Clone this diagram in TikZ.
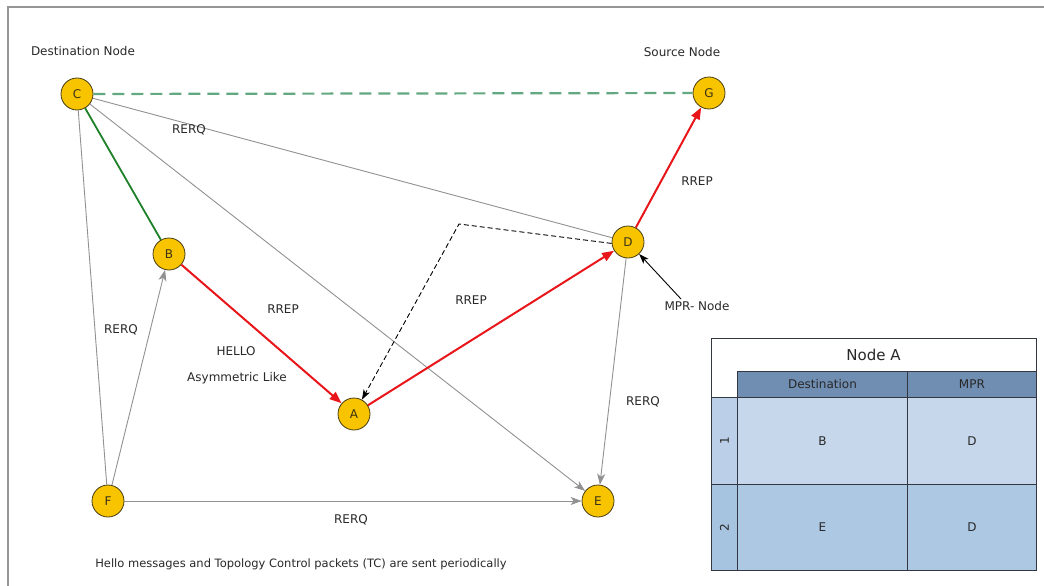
\documentclass[tikz,border=0pt]{standalone}
\usepackage{fontspec}
\setmainfont{DejaVu Sans}
\usetikzlibrary{arrows.meta}
\definecolor{nodefill}{RGB}{248,196,0}
\definecolor{nodeline}{RGB}{70,60,20}
\definecolor{nodetext}{RGB}{60,50,20}
\definecolor{txt}{RGB}{40,40,40}
\definecolor{edgegray}{RGB}{145,145,145}
\definecolor{arrred}{RGB}{232,22,26}
\definecolor{solidgreen}{RGB}{30,128,40}
\definecolor{dashgreen}{RGB}{98,168,128}
\definecolor{framec}{RGB}{150,150,150}
\definecolor{hdr}{RGB}{112,142,178}
\definecolor{rowone}{RGB}{198,215,235}
\definecolor{rowtwo}{RGB}{173,200,227}
\definecolor{sideone}{RGB}{188,207,232}
\definecolor{sidetwo}{RGB}{166,195,224}
\definecolor{tblline}{RGB}{50,55,65}
\begin{document}
\begin{tikzpicture}[x=1pt,y=-1pt,
  netnode/.style={circle, draw=nodeline, fill=nodefill, line width=0.8pt,
    minimum size=32pt, inner sep=0pt, font=\fontsize{12}{14}\selectfont, text=nodetext},
  lbl/.style={font=\fontsize{12}{14}\selectfont, text=txt, inner sep=1pt},
  grayedge/.style={draw=edgegray, line width=0.9pt},
  grayarrow/.style={grayedge, -{Stealth[length=11pt,width=8pt,inset=3pt]}},
  redarrow/.style={draw=arrred, line width=2pt, -{Triangle[length=12pt,width=9pt]}},
  blackarrow/.style={draw=black, line width=0.9pt, -{Stealth[length=10pt,width=7pt,inset=2.5pt]}},
  cell/.style={draw=tblline, line width=0.9pt, inner sep=0pt, anchor=north west,
    font=\fontsize{12}{14}\selectfont, text=txt}
]
\useasboundingbox (0,0) rectangle (1044,586);
% frame (top and left only)
\draw[framec, line width=1.6pt] (8,586) -- (8,7) -- (1044,7);

% nodes
\node[netnode] (C) at (77,94) {C};
\node[netnode] (G) at (709,93) {G};
\node[netnode] (B) at (169,254) {B};
\node[netnode] (D) at (628,242) {D};
\node[netnode] (A) at (354,414) {A};
\node[netnode] (F) at (108,501) {F};
\node[netnode] (E) at (598,501) {E};

\coordinate (bend) at (459,224);
\coordinate (mprtail) at (681,299);

% edges
\draw[dashgreen, line width=2.2pt, dash pattern=on 12pt off 7pt] (C) -- (G);
\draw[solidgreen, line width=1.8pt] (C) -- (B);
\draw[grayedge] (C) -- (D);
\draw[grayedge] (C) -- (F);
\draw[grayarrow] (C) -- (E);
\draw[grayarrow] (F) -- (B);
\draw[grayarrow] (F) -- (E);
\draw[grayarrow] (D) -- (E);
\draw[redarrow] (B) -- (A);
\draw[redarrow] (A) -- (D);
\draw[redarrow] (D) -- (G);
\draw[blackarrow, dash pattern=on 5pt off 3pt] (D.185) -- (bend) -- (A);
\draw[blackarrow] (mprtail) -- (D);

% labels
\node[lbl] (ldest) at (83,51) {Destination Node};
\node[lbl] (lsrc) at (682,52) {Source Node};
\node[lbl] (l1) at (189,130) {RERQ};
\node[lbl] (l2) at (697,181) {RREP};
\node[lbl] (l3) at (121,330) {RERQ};
\node[lbl] (l4) at (283,309) {RREP};
\node[lbl] (l5) at (236,351) {HELLO};
\node[lbl] (l6) at (237,378) {Asymmetric Like};
\node[lbl] (l7) at (471,300) {RREP};
\node[lbl, fill=white, inner sep=0.5pt] (mpr) at (697,306) {MPR- Node};
\node[lbl] (l8) at (643,402) {RERQ};
\node[lbl] (l9) at (351,520) {RERQ};
\node[lbl, font=\fontsize{11.5}{14}\selectfont] (note) at (301,564) {Hello messages and Topology Control packets (TC) are sent periodically};

% table
\node[cell, draw=none, fill=white, minimum width=325pt, minimum height=33pt] (title) at (711,338) {};
\node[lbl, font=\fontsize{15}{18}\selectfont] (titletext) at (873.5,355) {Node A};
\node[cell, fill=hdr, minimum width=170pt, minimum height=26pt] (hdest) at (737,371) {Destination};
\node[cell, fill=hdr, minimum width=129pt, minimum height=26pt] (hmpr) at (907,371) {MPR};
\node[cell, fill=sideone, minimum width=26pt, minimum height=87pt] (s1) at (711,397) {};
\node[cell, fill=rowone, minimum width=170pt, minimum height=87pt] (b1) at (737,397) {B};
\node[cell, fill=rowone, minimum width=129pt, minimum height=87pt] (m1) at (907,397) {D};
\node[cell, fill=sidetwo, minimum width=26pt, minimum height=86pt] (s2) at (711,484) {};
\node[cell, fill=rowtwo, minimum width=170pt, minimum height=86pt] (b2) at (737,484) {E};
\node[cell, fill=rowtwo, minimum width=129pt, minimum height=86pt] (m2) at (907,484) {D};
\node[lbl, rotate=90] (n1) at (s1) {1};
\node[lbl, rotate=90] (n2) at (s2) {2};
\draw[tblline, line width=0.9pt] (711,338) rectangle (1036,570);
\end{tikzpicture}
\end{document}
